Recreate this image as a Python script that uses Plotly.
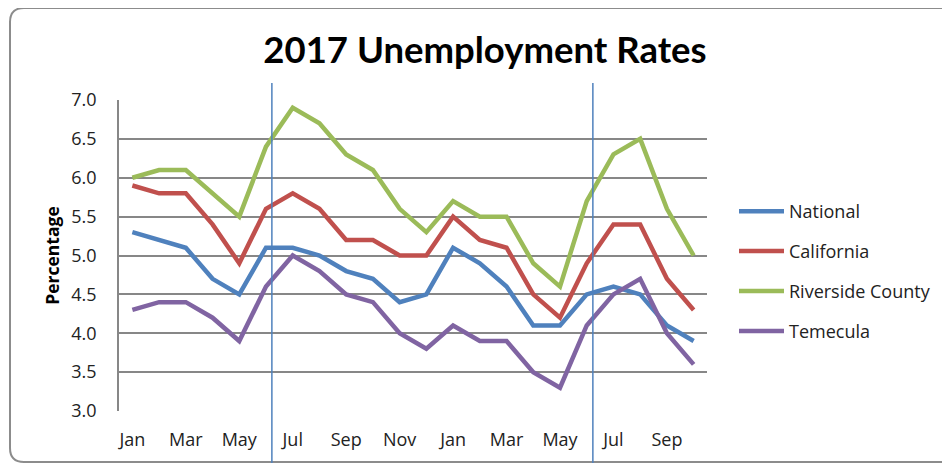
import plotly.graph_objects as go

# ---- data ----
months = ["Jan", "Feb", "Mar", "Apr", "May", "Jun", "Jul", "Aug", "Sep", "Oct", "Nov", "Dec",
          "Jan", "Feb", "Mar", "Apr", "May", "Jun", "Jul", "Aug", "Sep", "Oct"]
national = [5.3, 5.2, 5.1, 4.7, 4.5, 5.1, 5.1, 5.0, 4.8, 4.7, 4.4, 4.5,
            5.1, 4.9, 4.6, 4.1, 4.1, 4.5, 4.6, 4.5, 4.1, 3.9]
california = [5.9, 5.8, 5.8, 5.4, 4.9, 5.6, 5.8, 5.6, 5.2, 5.2, 5.0, 5.0,
              5.5, 5.2, 5.1, 4.5, 4.2, 4.9, 5.4, 5.4, 4.7, 4.3]
riverside = [6.0, 6.1, 6.1, 5.8, 5.5, 6.4, 6.9, 6.7, 6.3, 6.1, 5.6, 5.3,
             5.7, 5.5, 5.5, 4.9, 4.6, 5.7, 6.3, 6.5, 5.6, 5.0]
temecula = [4.3, 4.4, 4.4, 4.2, 3.9, 4.6, 5.0, 4.8, 4.5, 4.4, 4.0, 3.8,
            4.1, 3.9, 3.9, 3.5, 3.3, 4.1, 4.5, 4.7, 4.0, 3.6]
series_names = ["National", "California", "Riverside County", "Temecula"]
y_ticks = [3.0, 3.5, 4.0, 4.5, 5.0, 5.5, 6.0, 6.5, 7.0]
divider_months = [5.22, 17.23]

colors = ["#4F81BD", "#C0504D", "#9BBB59", "#8064A2"]
FONT = "'Open Sans', sans-serif"
TITLE_FONT = "Lato, sans-serif"

x_idx = list(range(len(months)))
tick_idx = x_idx[::2]
tick_text = [months[i] for i in tick_idx]

fig = go.Figure()
for i, (name, vals) in enumerate(zip(series_names, [national, california, riverside, temecula])):
    fig.add_trace(go.Scatter(
        x=x_idx, y=vals, mode="lines", name=name, legendgroup=name,
        line=dict(color=colors[i], width=4.5), hoverinfo="x+y+name"))

# page body has an 8px margin; work in screen pixels and subtract it
OFF = 8
W, H = 950 - OFF, 463 - OFF
L, R, T, B = 119 - OFF, 707 - OFF, 100 - OFF, 411 - OFF
pw, ph = R - L, B - T

def px(x):
    return (x - OFF - L) / pw

def py(y):
    return (B - (y - OFF)) / ph

# rounded frame
x0, x1, y0, y1, r = 10, 954, 8, 462, 14
path = (f"M {px(x0 + r)},{py(y0)} L {px(x1 - r)},{py(y0)} "
        f"Q {px(x1)},{py(y0)} {px(x1)},{py(y0 + r)} L {px(x1)},{py(y1 - r)} "
        f"Q {px(x1)},{py(y1)} {px(x1 - r)},{py(y1)} L {px(x0 + r)},{py(y1)} "
        f"Q {px(x0)},{py(y1)} {px(x0)},{py(y1 - r)} L {px(x0)},{py(y0 + r)} "
        f"Q {px(x0)},{py(y0)} {px(x0 + r)},{py(y0)} Z")
shapes = [dict(type="path", xref="paper", yref="paper", path=path,
               line=dict(color="#8C8C8C", width=2), fillcolor="rgba(0,0,0,0)", layer="below")]
for d in divider_months:
    shapes.append(dict(type="line", xref="x", yref="paper", x0=d, x1=d,
                       y0=py(83), y1=py(470), line=dict(color="#4F81BD", width=1.5), layer="above"))

fig.update_layout(
    width=W, height=H,
    margin=dict(l=L, r=W - R, t=T, b=H - B, pad=0, autoexpand=False),
    paper_bgcolor="white", plot_bgcolor="white",
    font=dict(family=FONT, size=18, color="#222"),
    title=dict(text="<b>2017 Unemployment Rates</b>", x=(485 - OFF) / W, xanchor="center",
               y=1 - (50 - OFF) / H, yanchor="middle",
               font=dict(family=TITLE_FONT, size=36.5, color="#000")),
    xaxis=dict(range=[-0.5, len(months) - 0.5], tickmode="array", tickvals=tick_idx,
               ticktext=tick_text, showgrid=False, zeroline=False, showline=False,
               ticks="", ticklabelstandoff=16, tickfont=dict(size=18), fixedrange=True),
    yaxis=dict(range=[3.0, 7.0], tickmode="array", tickvals=y_ticks,
               ticktext=[f"{v:.1f}" for v in y_ticks], showgrid=True, gridcolor="#878787",
               gridwidth=1.5, zeroline=False, showline=True, linecolor="#878787", linewidth=1.5,
               ticks="", ticklabelstandoff=17, tickfont=dict(size=18),
               title=dict(text="<b>Percentage</b>", font=dict(size=17.5, color="#000"), standoff=7),
               fixedrange=True),
    legend=dict(x=px(734), xanchor="left", y=py(193), yanchor="top",
                font=dict(size=18, color="#222"), tracegroupgap=13.5,
                bgcolor="rgba(0,0,0,0)", itemwidth=45),
    shapes=shapes,
    showlegend=True,
)

fig.write_html("out.html")
